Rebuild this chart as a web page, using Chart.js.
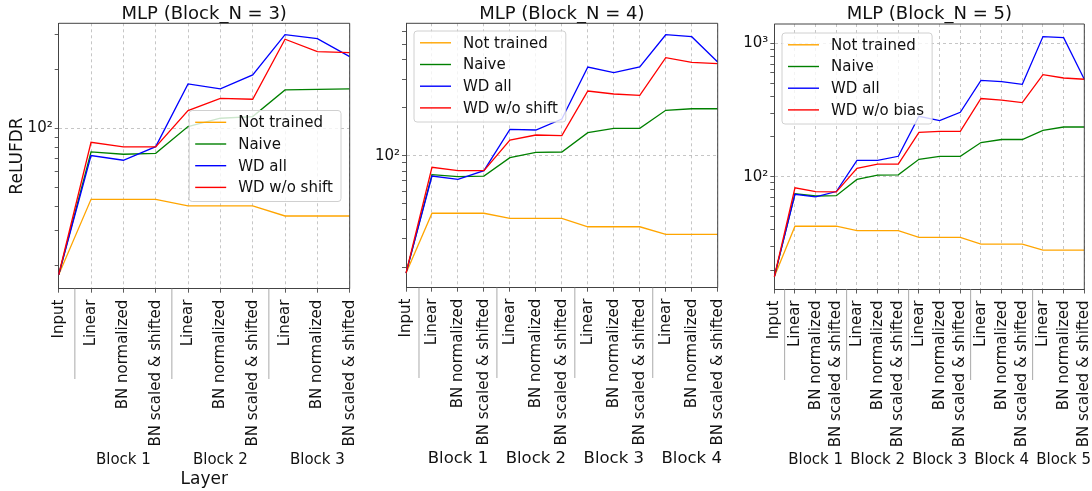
<!DOCTYPE html>
<html><head><meta charset="utf-8">
<script src="https://cdn.jsdelivr.net/npm/chart.js@4.4.0/dist/chart.umd.min.js"></script>
<style>
html,body{margin:0;padding:0;background:#fff;width:1092px;height:491px;overflow:hidden}
.wrap{position:absolute;top:0;height:491px;width:364px}
canvas{display:block}
</style></head><body>
<div class="wrap" style="left:0"><canvas id="c3" width="364" height="491"></canvas></div>
<div class="wrap" style="left:364px"><canvas id="c4" width="364" height="491"></canvas></div>
<div class="wrap" style="left:728px"><canvas id="c5" width="364" height="491"></canvas></div>
<script>
// ---------- data ----------
const inputLabel = 'Input';
const blockLayers = ['Linear', 'BN normalized', 'BN scaled & shifted'];
const seriesColors = ['orange', 'green', 'blue', 'red'];

const titles = ['MLP (Block_N = 3)', 'MLP (Block_N = 4)', 'MLP (Block_N = 5)'];
const names3 = ['Not trained', 'Naive', 'WD all', 'WD w/o shift'];
const names4 = ['Not trained', 'Naive', 'WD all', 'WD w/o shift'];
const names5 = ['Not trained', 'Naive', 'WD all', 'WD w/o bias'];
const blocks3 = ['Block 1', 'Block 2', 'Block 3'];
const blocks4 = ['Block 1', 'Block 2', 'Block 3', 'Block 4'];
const blocks5 = ['Block 1', 'Block 2', 'Block 3', 'Block 4', 'Block 5'];

const yMajor3 = [100];
const yMajor4 = [100];
const yMajor5 = [100, 1000];
const yRange3 = [15.2, 343];
const yRange4 = [14.84, 677];
const yRange5 = [14.3, 1396];

// Block_N = 3
const notTrained3 = [17.9, 43.4, 43.4, 43.4, 40.2, 40.2, 40.2, 35.7, 35.7, 35.7];
const naive3      = [17.9, 75.7, 73.7, 74.5, 102, 112.5, 114.7, 156.9, 158, 158.7];
const wdAll3      = [17.9, 72.6, 68.7, 80.6, 168.4, 158.7, 187, 300, 286.6, 232];
const wdNoShift3  = [17.9, 84.8, 80.3, 80.3, 123, 142, 140.6, 284.5, 246, 243];

// Block_N = 4
const notTrained4 = [18.3, 43.5, 43.5, 43.5, 40.4, 40.4, 40.4, 35.8, 35.8, 35.8, 32.1, 32.1, 32.1];
const naive4      = [18.3, 76, 73.8, 74.5, 97.2, 104.9, 105.4, 139.4, 148.4, 148.4, 192.5, 197, 197];
const wdAll4      = [18.3, 74.5, 71, 80.5, 146.3, 144.9, 169.9, 360, 332, 360, 574, 558, 387];
const wdNoShift4  = [18.3, 84.5, 80.5, 80.5, 125.4, 134.8, 133.5, 254.6, 243.8, 239, 412, 385, 378];

// Block_N = 5
const notTrained5 = [17.8, 42.6, 42.6, 42.6, 39.5, 39.5, 39.5, 35.2, 35.2, 35.2, 31.3, 31.3, 31.3, 28.2, 28.2, 28.2];
const naive5      = [17.8, 74.8, 71.8, 72.2, 95.5, 103, 103.5, 135.2, 142.4, 142.4, 180.6, 190.3, 190.3, 222.7, 236, 236];
const wdAll5      = [17.8, 74, 70.6, 77.5, 132.8, 132.8, 142.4, 284, 263.5, 304.5, 528, 516, 493, 1123, 1103, 538];
const wdNoBias5   = [17.8, 82.6, 77.5, 77.1, 115.6, 124.6, 124.6, 215, 218.7, 218.7, 386, 375, 360, 583, 550, 538];

// ---------- drawing ----------
const FONT = "'DejaVu Sans', 'Liberation Sans', sans-serif";
Chart.defaults.font.family = FONT;
Chart.defaults.color = '#111';

const SUP = {'0':'⁰','1':'¹','2':'²','3':'³','4':'⁴','5':'⁵','6':'⁶','7':'⁷','8':'⁸','9':'⁹'};
function powLabel(v) {
  const e = Math.round(Math.log10(v));
  return '10' + String(e).split('').map(c => SUP[c]).join('');
}
function logTicks(min, max, majors) {
  const out = [];
  for (let e = Math.floor(Math.log10(min)); e <= Math.ceil(Math.log10(max)); e++) {
    for (let m = 1; m < 10; m++) {
      const v = m * Math.pow(10, e);
      if (v >= min && v <= max) out.push({value: v, major: majors.includes(v)});
    }
  }
  return out;
}
function noPad(s) { s.paddingLeft = 0; s.paddingRight = 0; s.paddingTop = 0; s.paddingBottom = 0; }

const decor = {
  id: 'decor',
  afterDraw(chart, args, o) {
    const ctx = chart.ctx, ca = chart.chartArea, xs = chart.scales.x;
    ctx.save();
    // title, centred over the axes
    ctx.fillStyle = '#111';
    ctx.font = '18px ' + FONT;
    ctx.textAlign = 'center'; ctx.textBaseline = 'alphabetic';
    ctx.fillText(o.title, (ca.left + ca.right) / 2, 19.4);
    // top / right spines
    ctx.strokeStyle = '#444'; ctx.lineWidth = 1;
    ctx.beginPath();
    ctx.moveTo(ca.left, ca.top); ctx.lineTo(ca.right, ca.top); ctx.lineTo(ca.right, ca.bottom);
    ctx.stroke();
    // block separators and labels
    ctx.strokeStyle = '#aaaaaa'; ctx.lineWidth = 1;
    o.blocks.forEach((b, k) => {
      const i0 = 1 + 3 * k;
      const px = (xs.getPixelForTick(i0 - 1) + xs.getPixelForTick(i0)) / 2;
      ctx.beginPath(); ctx.moveTo(px, ca.bottom); ctx.lineTo(px, o.sepBottom); ctx.stroke();
    });
    ctx.fillStyle = '#111';
    ctx.font = o.groupSize + 'px ' + FONT;
    ctx.textAlign = 'center'; ctx.textBaseline = 'middle';
    o.blocks.forEach((b, k) => {
      ctx.fillText(b, xs.getPixelForTick(2 + 3 * k), o.groupY);
    });
    // legend (inside axes, matplotlib-like)
    const L = o.legend;
    ctx.font = '15px ' + FONT;
    const dsets = chart.data.datasets;
    const tw = Math.max(...dsets.map(d => ctx.measureText(d.label).width));
    const w = 49 + tw + 8, h = 91;
    let bx, by;
    if (L.loc === 'center right') { bx = ca.right - L.pad - w; by = (ca.top + ca.bottom) / 2 - h / 2; }
    else { bx = ca.left + L.padX; by = ca.top + L.padY; }
    ctx.beginPath();
    ctx.roundRect(bx, by, w, h, 3);
    ctx.fillStyle = 'rgba(255,255,255,0.8)'; ctx.fill();
    ctx.strokeStyle = '#d0d0d0'; ctx.lineWidth = 1; ctx.stroke();
    ctx.textAlign = 'left'; ctx.textBaseline = 'middle';
    dsets.forEach((d, i) => {
      const cy = by + 11.8 + i * 21.7;
      ctx.strokeStyle = d.borderColor; ctx.lineWidth = 1.4;
      ctx.beginPath(); ctx.moveTo(bx + 6, cy); ctx.lineTo(bx + 37, cy); ctx.stroke();
      ctx.fillStyle = '#111';
      ctx.fillText(d.label, bx + 49, cy + 1);
    });
    ctx.restore();
  }
};

function makeChart(id, p) {
  const labels = [inputLabel];
  p.blocks.forEach(() => labels.push(...blockLayers));
  const datasets = p.series.map((d, i) => ({
    label: p.names[i], data: d, borderColor: seriesColors[i], backgroundColor: seriesColors[i],
    borderWidth: 1.3, pointRadius: 0, pointHoverRadius: 0, tension: 0, fill: false, order: 4 - i
  }));
  new Chart(document.getElementById(id), {
    type: 'line',
    data: {labels, datasets},
    plugins: [decor],
    options: {
      responsive: false, animation: false, events: [],
      layout: {padding: {left: 0, right: p.padR, top: p.top, bottom: 0}},
      plugins: {
        legend: {display: false}, tooltip: {enabled: false}, title: {display: false},
        decor: {title: p.title, blocks: p.blocks, groupY: p.groupY, groupSize: p.groupSize, sepBottom: p.sepBottom, legend: p.legend}
      },
      scales: {
        x: {
          type: 'category', offset: false,
          grid: {color: '#b8b8b8', lineWidth: 0.8, tickColor: '#333', tickLength: 4, drawTicks: true},
          border: {display: true, color: '#444', width: 1, dash: [3, 3]},
          ticks: {autoSkip: false, maxRotation: 90, minRotation: 90, padding: 7, color: '#111', font: {size: 15, family: FONT}},
          title: p.xTitle ? {display: true, text: p.xTitle, color: '#111', font: {size: 17, family: FONT}, padding: {top: 0, bottom: 1}} : {display: false},
          afterFit: s => { s.height = 491 - p.bottom; noPad(s); }
        },
        y: {
          type: 'logarithmic', min: p.yRange[0], max: p.yRange[1],
          afterBuildTicks: s => { s.ticks = logTicks(p.yRange[0], p.yRange[1], p.yMajor); },
          grid: {color: c => (c.tick && c.tick.major) ? '#b8b8b8' : 'rgba(0,0,0,0)', lineWidth: 0.8, tickColor: '#333', tickLength: 4},
          border: {display: true, color: '#444', width: 1, dash: [3, 3]},
          ticks: {autoSkip: false, padding: 2, color: '#111', font: {size: 15, family: FONT},
                  callback: v => p.yMajor.includes(v) ? powLabel(v) : ''},
          title: p.yTitle ? {display: true, text: p.yTitle, color: '#111', font: {size: 17, family: FONT}, padding: {top: 7, bottom: 0}} : {display: false},
          afterFit: s => { s.width = p.left; noPad(s); }
        }
      }
    }
  });
}

makeChart('c3', {
  title: titles[0], names: names3, blocks: blocks3,
  series: [notTrained3, naive3, wdAll3, wdNoShift3],
  yRange: yRange3, yMajor: yMajor3, yTitle: 'ReLUFDR', xTitle: 'Layer',
  left: 58.7, padR: 14.3, top: 23.3, bottom: 288.7,
  groupY: 460, groupSize: 15, sepBottom: 379,
  legend: {loc: 'center right', pad: 8.7}
});
makeChart('c4', {
  title: titles[1], names: names4, blocks: blocks4,
  series: [notTrained4, naive4, wdAll4, wdNoShift4],
  yRange: yRange4, yMajor: yMajor4,
  left: 42, padR: 10.3, top: 23.3, bottom: 287.7,
  groupY: 459, groupSize: 16.5, sepBottom: 378,
  legend: {loc: 'upper left', padX: 8, padY: 7.7}
});
makeChart('c5', {
  title: titles[2], names: names5, blocks: blocks5,
  series: [notTrained5, naive5, wdAll5, wdNoBias5],
  yRange: yRange5, yMajor: yMajor5,
  left: 46.3, padR: 7.7, top: 24, bottom: 289.5,
  groupY: 460, groupSize: 15, sepBottom: 380,
  legend: {loc: 'upper left', padX: 7.7, padY: 9}
});
</script>
</body></html>
